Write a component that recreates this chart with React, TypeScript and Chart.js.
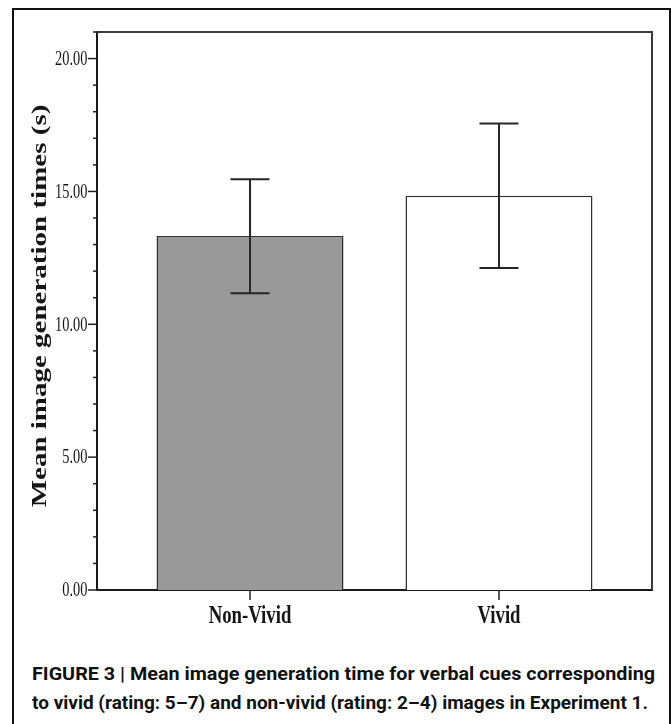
import React, { useEffect, useMemo, useRef } from "react";
import { Chart, registerables } from "chart.js";

Chart.register(...registerables);

// ---- data ----
const categories = ["Non-Vivid", "Vivid"];
const means = [13.32, 14.84];
const errLow = [11.17, 12.12];
const errHigh = [15.46, 17.56];
const barColors = ["#999999", "#ffffff"];
const yMajorTicks = [0, 5, 10, 15, 20];
const yTitle = "Mean image generation times (s)";
const captionLines = [
  "FIGURE 3 | Mean image generation time for verbal cues corresponding",
  "to vivid (rating: 5\u20137) and non-vivid (rating: 2\u20134) images in Experiment 1.",
];

const CAPTION_FONT = 'bold 19px "Liberation Sans Narrow", Roboto, "Liberation Sans", sans-serif';
const captionTargets = [623, 616];

function drawScaledText(
  ctx: CanvasRenderingContext2D,
  text: string,
  x: number,
  y: number,
  font: string,
  sx: number,
  align: CanvasTextAlign
) {
  ctx.save();
  ctx.translate(x, y);
  ctx.scale(sx, 1);
  ctx.font = font;
  ctx.textAlign = align;
  ctx.textBaseline = "middle";
  ctx.fillStyle = "#151515";
  ctx.fillText(text, 0, 0);
  ctx.restore();
}

const decorPlugin = {
  id: "decor",
  afterDraw(chart: any) {
    const { ctx, chartArea: a, scales } = chart;
    const xs = scales.x;
    const ys = scales.y;
    const meta = chart.getDatasetMeta(0);
    ctx.save();

    // plot frame top & right
    ctx.strokeStyle = "#3a3a3a";
    ctx.lineWidth = 2;
    ctx.beginPath();
    ctx.moveTo(a.left, a.top);
    ctx.lineTo(a.right, a.top);
    ctx.lineTo(a.right, a.bottom);
    ctx.stroke();

    // error bars
    ctx.strokeStyle = "#262626";
    ctx.lineWidth = 2;
    meta.data.forEach((bar: any, i: number) => {
      const cx = bar.x;
      const yl = ys.getPixelForValue(errLow[i]);
      const yh = ys.getPixelForValue(errHigh[i]);
      const hw = 19.5;
      ctx.beginPath();
      ctx.moveTo(cx, yh);
      ctx.lineTo(cx, yl);
      ctx.moveTo(cx - hw, yh);
      ctx.lineTo(cx + hw, yh);
      ctx.moveTo(cx - hw, yl);
      ctx.lineTo(cx + hw, yl);
      ctx.stroke();
    });

    // y ticks
    ctx.strokeStyle = "#222";
    ctx.lineWidth = 1.5;
    ys.ticks.forEach((t: any) => {
      const py = ys.getPixelForValue(t.value);
      const major = yMajorTicks.includes(t.value);
      const len = major ? 9 : 4;
      ctx.beginPath();
      ctx.moveTo(a.left - len, py);
      ctx.lineTo(a.left, py);
      ctx.stroke();
      if (major) {
        drawScaledText(ctx, t.value.toFixed(2), a.left - 9.5, py + 1, '20px "Liberation Serif"', 0.72, "right");
      }
    });

    // x ticks + labels
    categories.forEach((c, i) => {
      const px = xs.getPixelForValue(i);
      ctx.beginPath();
      ctx.moveTo(px, a.bottom);
      ctx.lineTo(px, a.bottom + 10);
      ctx.stroke();
      drawScaledText(ctx, c, px, a.bottom + 27, 'bold 25px "Liberation Serif"', 0.75, "center");
    });

    // y title
    ctx.save();
    ctx.translate(41, 306);
    ctx.rotate(-Math.PI / 2);
    ctx.scale(1, 0.72);
    ctx.font = 'bold 29px "Liberation Serif"';
    ctx.textAlign = "center";
    ctx.textBaseline = "middle";
    ctx.fillStyle = "#151515";
    ctx.fillText(yTitle, 0, 0);
    ctx.restore();

    ctx.restore();
  },
};

export default function App() {
  const ref = useRef<HTMLCanvasElement>(null);

  const capScales = useMemo(() => {
    const c = document.createElement("canvas").getContext("2d")!;
    c.font = CAPTION_FONT;
    return captionLines.map((t, i) => captionTargets[i] / c.measureText(t).width);
  }, []);

  useEffect(() => {
    const canvas = ref.current!;
    const chart = new Chart(canvas, {
      type: "bar",
      data: {
        datasets: [
          {
            data: means.map((v, i) => ({ x: i, y: v })),
            backgroundColor: barColors,
            borderColor: "#303030",
            borderWidth: 1.5,
            barPercentage: 0.751,
            categoryPercentage: 1,
          },
        ],
      },
      options: {
        animation: false,
        responsive: false,
        devicePixelRatio: 1,
        events: [],
        layout: { padding: { left: 0, right: 19, top: 32, bottom: 0 } },
        plugins: { legend: { display: false }, tooltip: { enabled: false } },
        scales: {
          x: {
            type: "linear",
            offset: false,
            min: -0.6146,
            max: 1.6146,
            afterBuildTicks: (s: any) => {
              s.ticks = categories.map((_, i) => ({ value: i }));
            },
            afterFit: (s: any) => {
              s.height = 60;
            },
            ticks: { display: false },
            grid: { display: false },
            border: { display: true, color: "#1a1a1a", width: 2 },
          },
          y: {
            min: 0,
            max: 21,
            ticks: { display: false, stepSize: 1 },
            afterFit: (s: any) => {
              s.width = 97;
            },
            grid: { display: false },
            border: { display: true, color: "#1a1a1a", width: 2 },
          },
        },
      } as any,
      plugins: [decorPlugin],
    });
    return () => chart.destroy();
  }, []);

  return (
    <div
      style={{
        position: "absolute",
        left: 0,
        top: 0,
        width: 671,
        height: 724,
        overflow: "hidden",
        background: "#fff",
      }}
    >
      <div
        style={{
          position: "absolute",
          left: 12,
          top: 8,
          width: 659,
          height: 760,
          border: "2px solid #111",
          boxSizing: "border-box",
        }}
      />
      <canvas ref={ref} width={671} height={650} style={{ position: "absolute", left: 0, top: 0 }} />
      {captionLines.map((t, i) => (
        <div
          key={i}
          style={{
            position: "absolute",
            left: 32,
            top: 660 + i * 29,
            whiteSpace: "nowrap",
            font: CAPTION_FONT,
            lineHeight: "28px",
            color: "#111",
            transformOrigin: "0 50%",
            transform: `scaleX(${capScales[i]})`,
          }}
        >
          {t}
        </div>
      ))}
    </div>
  );
}
